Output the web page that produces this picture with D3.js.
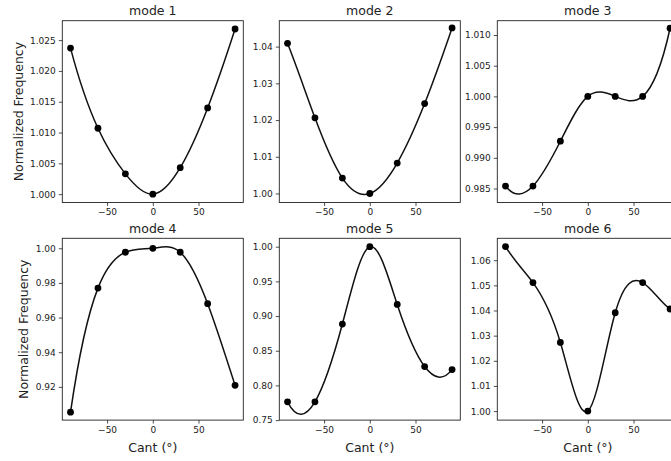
<!DOCTYPE html>
<html>
<head>
<meta charset="utf-8">
<script src="https://cdn.jsdelivr.net/npm/d3@7"></script>
<style>
  body { margin: 0; background: #fff; }
  text { font-family: "DejaVu Sans", sans-serif; fill: #222; }
</style>
</head>
<body>
<div id="chart"></div>
<script>
// cant angles shared by every mode
const cant = [-90, -60, -30, 0, 30, 60, 90];

const mode1 = [1.0237, 1.0107, 1.0033, 1.0000, 1.0043, 1.0140, 1.0268];
const mode2 = [1.0409, 1.0206, 1.0042, 1.0000, 1.0083, 1.0245, 1.0451];
const mode3 = [0.9854, 0.9854, 0.9927, 1.0000, 1.0000, 1.0000, 1.0111];
const mode4 = [0.9054, 0.9770, 0.9977, 1.0000, 0.9977, 0.9680, 0.9209];
const mode5 = [0.7764, 0.7764, 0.8885, 1.0000, 0.9167, 0.8272, 0.8228];
const mode6 = [1.0654, 1.0511, 1.0273, 1.0000, 1.0391, 1.0511, 1.0406];

const xTicks = [-50, 0, 50];
const yTicks1 = [1.000, 1.005, 1.010, 1.015, 1.020, 1.025];
const yTicks2 = [1.00, 1.01, 1.02, 1.03, 1.04];
const yTicks3 = [0.985, 0.990, 0.995, 1.000, 1.005, 1.010];
const yTicks4 = [0.92, 0.94, 0.96, 0.98, 1.00];
const yTicks5 = [0.75, 0.80, 0.85, 0.90, 0.95, 1.00];
const yTicks6 = [1.00, 1.01, 1.02, 1.03, 1.04, 1.05, 1.06];

const panels = [
  {title: 'mode 1', values: mode1, ticks: yTicks1, fmt: '.3f', lim: [0.99865, 1.02815]},
  {title: 'mode 2', values: mode2, ticks: yTicks2, fmt: '.2f', lim: [0.99755, 1.04706]},
  {title: 'mode 3', values: mode3, ticks: yTicks3, fmt: '.3f', lim: [0.98272, 1.01233]},
  {title: 'mode 4', values: mode4, ticks: yTicks4, fmt: '.2f', lim: [0.9008, 1.00576]},
  {title: 'mode 5', values: mode5, ticks: yTicks5, fmt: '.2f', lim: [0.7500, 1.0121]},
  {title: 'mode 6', values: mode6, ticks: yTicks6, fmt: '.2f', lim: [0.99643, 1.0687]}
];

const width = 671, height = 461;
const colX = [62.3, 279.3, 497.3];
const rowY = [20.7, 238.3];
const pw = 181, ph = 181.8;

// cubic spline y(x) with not-a-knot ends, drawn as bezier segments
function curveNotAKnot(context) {
  let xs, ys;
  return {
    areaStart() {}, areaEnd() {},
    lineStart() { xs = []; ys = []; },
    point(px, py) { xs.push(+px); ys.push(+py); },
    lineEnd() {
      const n = xs.length;
      if (!n) return;
      context.moveTo(xs[0], ys[0]);
      if (n < 4) { for (let i = 1; i < n; i++) context.lineTo(xs[i], ys[i]); return; }
      const h = d3.range(n - 1).map((i) => xs[i + 1] - xs[i]);
      // dense system for second derivatives M
      const A = d3.range(n).map(() => new Array(n).fill(0));
      const b = new Array(n).fill(0);
      A[0][0] = h[1]; A[0][1] = -(h[0] + h[1]); A[0][2] = h[0];
      A[n - 1][n - 3] = h[n - 2]; A[n - 1][n - 2] = -(h[n - 3] + h[n - 2]); A[n - 1][n - 1] = h[n - 3];
      for (let i = 1; i < n - 1; i++) {
        A[i][i - 1] = h[i - 1];
        A[i][i] = 2 * (h[i - 1] + h[i]);
        A[i][i + 1] = h[i];
        b[i] = 6 * ((ys[i + 1] - ys[i]) / h[i] - (ys[i] - ys[i - 1]) / h[i - 1]);
      }
      // gaussian elimination with partial pivoting
      for (let c = 0; c < n; c++) {
        let p = c;
        for (let r = c + 1; r < n; r++) if (Math.abs(A[r][c]) > Math.abs(A[p][c])) p = r;
        [A[c], A[p]] = [A[p], A[c]]; [b[c], b[p]] = [b[p], b[c]];
        for (let r = c + 1; r < n; r++) {
          const f = A[r][c] / A[c][c];
          for (let k = c; k < n; k++) A[r][k] -= f * A[c][k];
          b[r] -= f * b[c];
        }
      }
      const M = new Array(n).fill(0);
      for (let r = n - 1; r >= 0; r--) {
        let s = b[r];
        for (let k = r + 1; k < n; k++) s -= A[r][k] * M[k];
        M[r] = s / A[r][r];
      }
      const d = d3.range(n).map((i) => i < n - 1
        ? (ys[i + 1] - ys[i]) / h[i] - h[i] * (2 * M[i] + M[i + 1]) / 6
        : (ys[i] - ys[i - 1]) / h[i - 1] + h[i - 1] * (M[i - 1] + 2 * M[i]) / 6);
      for (let i = 0; i < n - 1; i++) {
        const t = h[i] / 3;
        context.bezierCurveTo(xs[i] + t, ys[i] + d[i] * t, xs[i + 1] - t, ys[i + 1] - d[i + 1] * t, xs[i + 1], ys[i + 1]);
      }
    }
  };
}

const svg = d3.select('#chart').append('svg')
  .attr('width', width)
  .attr('height', height)

const x = d3.scaleLinear().domain([-99, 99]).range([0, pw])

panels.forEach((p, i) => {
  const col = i % 3, row = Math.floor(i / 3);
  const g = svg.append('g')
    .attr('transform', 'translate(' + colX[col] + ',' + rowY[row] + ')')

  const y = d3.scaleLinear().domain(p.lim).range([ph, 0])

  const xAxis = g.append('g')
    .attr('transform', 'translate(0,' + ph + ')')
    .call(d3.axisBottom(x).tickValues(xTicks).tickSizeOuter(0).tickSize(3.5).tickPadding(3))
  const yAxis = g.append('g')
    .call(d3.axisLeft(y).tickValues(p.ticks).tickFormat(d3.format(p.fmt)).tickSizeOuter(0).tickSize(3.5).tickPadding(3))

  ;[xAxis, yAxis].forEach((a) => {
    a.select('.domain').remove()
    a.selectAll('.tick line').attr('stroke', '#222').attr('stroke-width', 0.8)
    a.selectAll('.tick text').style('font-size', '9px').attr('fill', '#222')
  })

  g.append('rect')
    .attr('width', pw).attr('height', ph)
    .attr('fill', 'none').attr('stroke', '#222').attr('stroke-width', 0.9)

  const pts = cant.map((c, k) => [c, p.values[k]]);

  g.append('path')
    .datum(pts)
    .attr('fill', 'none')
    .attr('stroke', '#111')
    .attr('stroke-width', 1.5)
    .attr('d', d3.line().x((d) => x(d[0])).y((d) => y(d[1])).curve(curveNotAKnot))

  g.selectAll('.pt')
    .data(pts)
    .enter().append('circle')
    .attr('cx', (d) => x(d[0]))
    .attr('cy', (d) => y(d[1]))
    .attr('r', 3.4)
    .attr('fill', '#000')

  g.append('text')
    .attr('x', pw / 2).attr('y', -5.5)
    .attr('text-anchor', 'middle')
    .style('font-size', '12.5px')
    .text(p.title)

  if (row === 1) {
    g.append('text')
      .attr('x', pw / 2).attr('y', ph + 32)
      .attr('text-anchor', 'middle')
      .style('font-size', '12.5px')
      .text('Cant (°)')
  }
  if (col === 0) {
    const lx = row === 0 ? 19 : 24;
    svg.append('text')
      .attr('transform', 'translate(' + (lx + 4) + ',' + (rowY[row] + ph / 2) + ') rotate(-90)')
      .attr('text-anchor', 'middle')
      .style('font-size', '12.5px')
      .text('Normalized Frequency')
  }
})
</script>
</body>
</html>
